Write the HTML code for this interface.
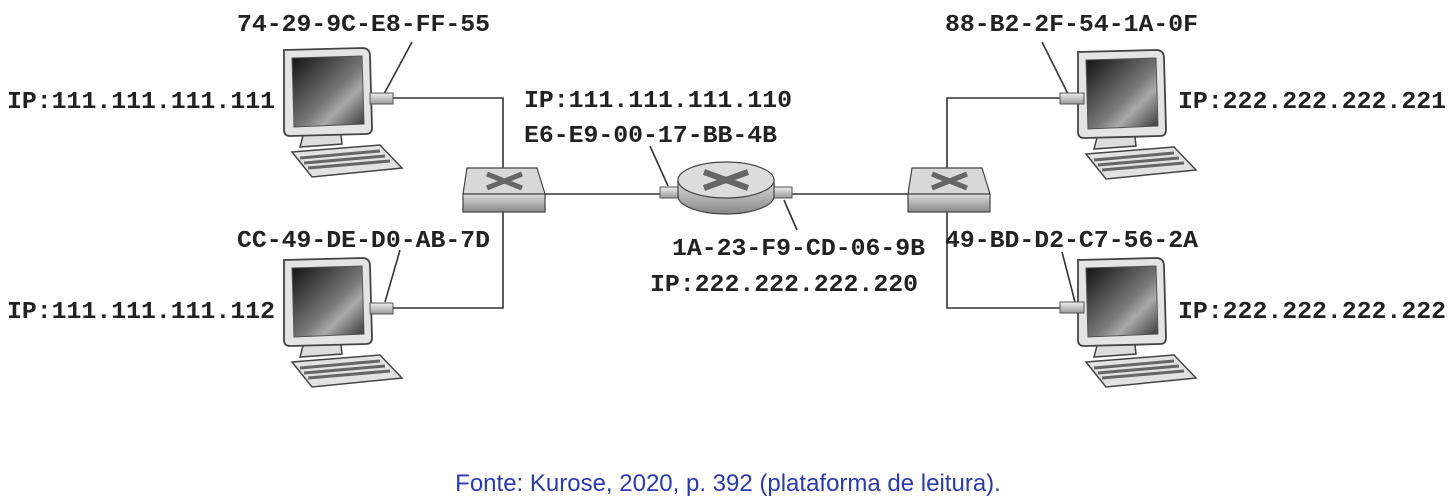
<!DOCTYPE html>
<html><head><meta charset="utf-8"><style>
html,body{margin:0;padding:0;background:#fff;}
svg{display:block}
.t{font-family:"Liberation Mono",monospace;font-weight:bold;font-size:24.5px;fill:#222;}
.cap{font-family:"Liberation Sans",sans-serif;font-size:24px;fill:#2b3aa8;}
</style></head><body>
<svg width="1456" height="503" viewBox="0 0 1456 503" xmlns="http://www.w3.org/2000/svg">
<defs>
<linearGradient id="scr" x1="0" y1="0" x2="1" y2="1">
<stop offset="0" stop-color="#111"/><stop offset="0.55" stop-color="#777"/><stop offset="0.7" stop-color="#aaa"/><stop offset="1" stop-color="#333"/></linearGradient>
<linearGradient id="sw" x1="0" y1="0" x2="0" y2="1"><stop offset="0" stop-color="#ddd"/><stop offset="1" stop-color="#888"/></linearGradient>
<linearGradient id="nic" x1="0" y1="0" x2="0" y2="1"><stop offset="0" stop-color="#eee"/><stop offset="1" stop-color="#999"/></linearGradient>
<g id="pc">
<path d="M292 152 L380 145 L402 168 L312 177 Z" fill="#e2e2e2" stroke="#444" stroke-width="1.5"/>
<path d="M300 158 L380 151 M304 163 L385 156 M308 168 L390 161" stroke="#666" stroke-width="3"/>
<path d="M305 128 L340 126 L342 144 L300 147 Z" fill="#ddd" stroke="#444" stroke-width="1.5"/>
<path d="M284 50 L362 48 Q370 48 370 56 L372 128 Q372 134 366 134 L290 136 Q284 136 284 130 Z" fill="#e4e4e4" stroke="#444" stroke-width="1.8"/>
<path d="M292 58 L362 56 L364 124 L294 127 Z" fill="url(#scr)" stroke="#555"/>
</g>
<g id="switch">
<path d="M0 0 L70 0 L78 26 L-4 26 Z" fill="#d8d8d8" stroke="#444" stroke-width="1.2"/>
<rect x="-4" y="26" width="82" height="18" fill="url(#sw)" stroke="#444" stroke-width="1.2"/>
<path d="M20 6 L55 20 M55 6 L20 20" stroke="#666" stroke-width="5"/>
</g>
</defs>

<g stroke="#333" stroke-width="1.6" fill="none">
<path d="M393 98 H503 V170"/>
<path d="M393 308 H503 V212"/>
<path d="M543 194 H662"/>
<path d="M790 194 H912"/>
<path d="M1062 98 H947 V170"/>
<path d="M1062 308 H947 V212"/>
<path d="M412 42 L384 94"/>
<path d="M400 250 L385 302"/>
<path d="M650 146 L668 186"/>
<path d="M784 200 L797 230"/>
<path d="M1042 42 L1068 94"/>
<path d="M1062 252 L1075 302"/>
</g>

<use href="#pc"/>
<rect x="370" y="93" width="23" height="11" fill="url(#nic)" stroke="#555"/>
<use href="#pc" transform="translate(0,210)"/>
<rect x="370" y="303" width="23" height="11" fill="url(#nic)" stroke="#555"/>
<use href="#pc" transform="translate(794,2)"/>
<rect x="1060" y="93" width="24" height="11" fill="url(#nic)" stroke="#555"/>
<use href="#pc" transform="translate(794,210)"/>
<rect x="1060" y="302" width="24" height="11" fill="url(#nic)" stroke="#555"/>

<use href="#switch" transform="translate(467,168)"/>
<use href="#switch" transform="translate(912,168)"/>

<!-- router -->
<rect x="660" y="187" width="22" height="11" fill="url(#nic)" stroke="#555"/>
<rect x="770" y="187" width="22" height="11" fill="url(#nic)" stroke="#555"/>
<path d="M678 180 L678 196 A48 18 0 0 0 774 196 L774 180 Z" fill="url(#sw)" stroke="#444" stroke-width="1.2"/>
<ellipse cx="726" cy="180" rx="48" ry="18" fill="#dcdcdc" stroke="#444" stroke-width="1.2"/>
<path d="M704 172 L748 188 M748 172 L704 188" stroke="#666" stroke-width="6"/>

<text class="t" x="237" y="31" textLength="253" lengthAdjust="spacingAndGlyphs">74-29-9C-E8-FF-55</text>
<text class="t" x="7" y="108" textLength="268" lengthAdjust="spacingAndGlyphs">IP:111.111.111.111</text>
<text class="t" x="237" y="247" textLength="253" lengthAdjust="spacingAndGlyphs">CC-49-DE-D0-AB-7D</text>
<text class="t" x="7" y="318" textLength="268" lengthAdjust="spacingAndGlyphs">IP:111.111.111.112</text>
<text class="t" x="524" y="107" textLength="268" lengthAdjust="spacingAndGlyphs">IP:111.111.111.110</text>
<text class="t" x="524" y="142" textLength="253" lengthAdjust="spacingAndGlyphs">E6-E9-00-17-BB-4B</text>
<text class="t" x="672" y="255" textLength="253" lengthAdjust="spacingAndGlyphs">1A-23-F9-CD-06-9B</text>
<text class="t" x="650" y="291" textLength="268" lengthAdjust="spacingAndGlyphs">IP:222.222.222.220</text>
<text class="t" x="945" y="31" textLength="253" lengthAdjust="spacingAndGlyphs">88-B2-2F-54-1A-0F</text>
<text class="t" x="1178" y="108" textLength="268" lengthAdjust="spacingAndGlyphs">IP:222.222.222.221</text>
<text class="t" x="945" y="247" textLength="253" lengthAdjust="spacingAndGlyphs">49-BD-D2-C7-56-2A</text>
<text class="t" x="1178" y="318" textLength="268" lengthAdjust="spacingAndGlyphs">IP:222.222.222.222</text>

<text class="cap" x="728" y="491" text-anchor="middle">Fonte: Kurose, 2020, p. 392 (plataforma de leitura).</text>
</svg>
</body></html>
